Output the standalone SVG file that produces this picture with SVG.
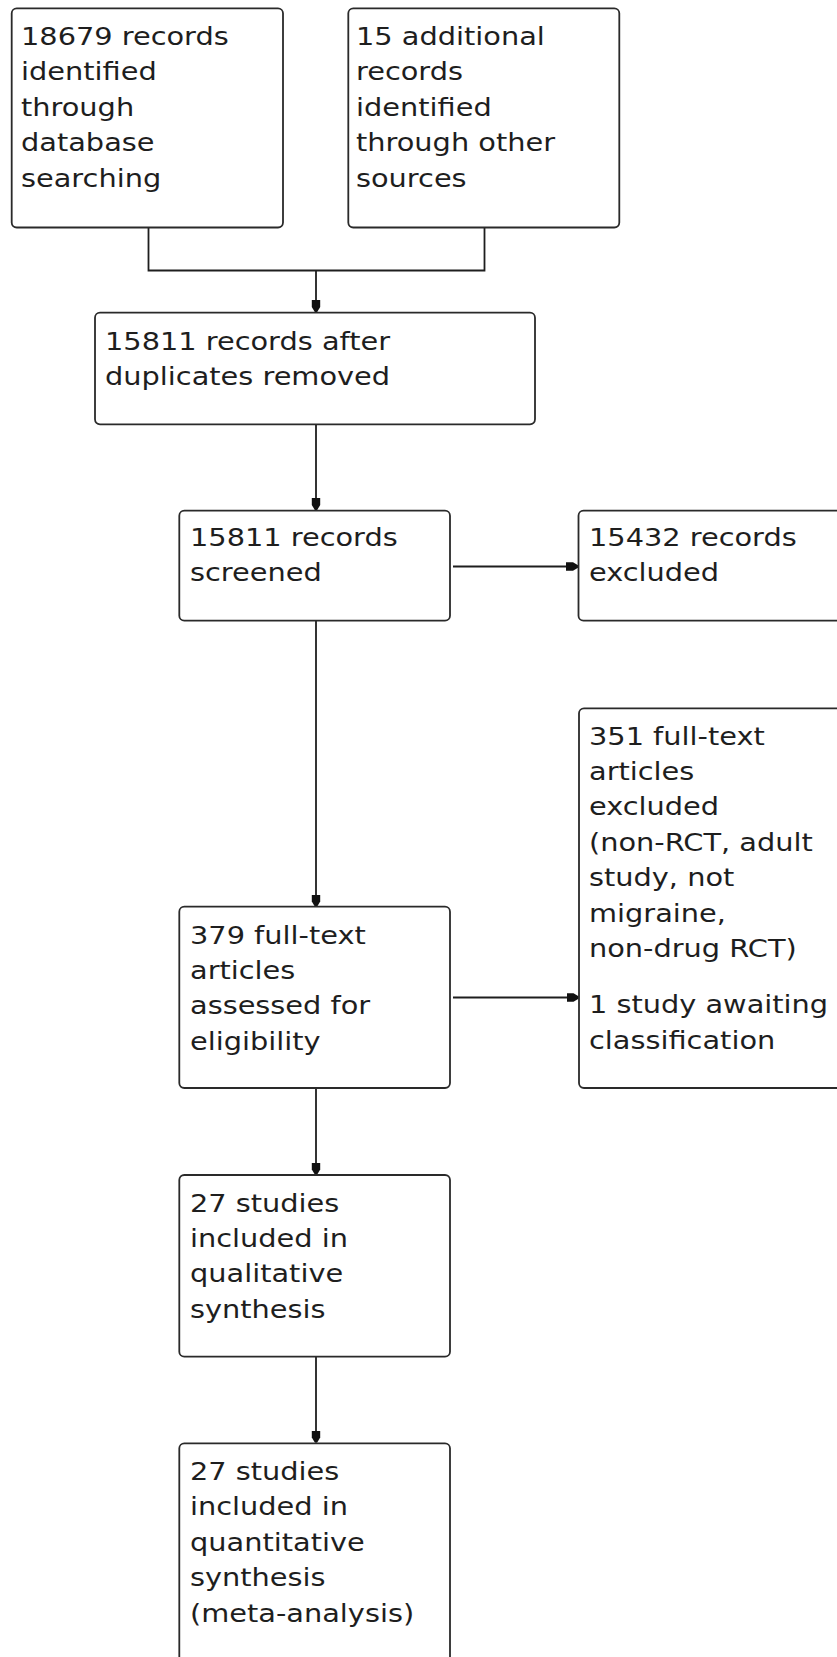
<svg xmlns="http://www.w3.org/2000/svg" width="837" height="1657" viewBox="0 0 837 1657">
<style>
.box{fill:#ffffff;stroke:#2a2a2a;stroke-width:1.8}
.lbl{font-family:"DejaVu Sans","Verdana",sans-serif;font-size:25.5px;fill:#1e1e1e}
.con{fill:none;stroke:#1e1e1e;stroke-width:1.8}
</style>
<defs>
<marker id="ah" markerUnits="userSpaceOnUse" markerWidth="14" markerHeight="12" refX="12" refY="6" orient="auto">
<path d="M0,1.8 L7,1.8 L12,4.8 L12,7.2 L7,10.2 L0,10.2 Z" fill="#111"/>
</marker>
</defs>
<rect x="0" y="0" width="837" height="1657" fill="#ffffff"/>
<g id="connectors">
<path class="con" d="M148.5,227.5 V270.5 H484.5 V227.5"/>
<path class="con" d="M316,270.5 V312" marker-end="url(#ah)"/>
<path class="con" d="M316,424.5 V510" marker-end="url(#ah)"/>
<path class="con" d="M453,566.5 H578" marker-end="url(#ah)"/>
<path class="con" d="M316,621 V906.5" marker-end="url(#ah)"/>
<path class="con" d="M453,997.5 H578.5" marker-end="url(#ah)"/>
<path class="con" d="M316,1088.5 V1174.5" marker-end="url(#ah)"/>
<path class="con" d="M316,1357 V1442.5" marker-end="url(#ah)"/>
</g>
<g id="n1">
<rect class="box" x="11.7" y="8.3" width="271.3" height="219.2" rx="5"/>
<text class="lbl" transform="translate(21,45) scale(1.13,1)"><tspan x="0" y="0">18679 records</tspan><tspan x="0" y="35.5">identified</tspan><tspan x="0" y="71">through</tspan><tspan x="0" y="106.5">database</tspan><tspan x="0" y="142">searching</tspan></text>
</g>
<g id="n2">
<rect class="box" x="348.3" y="8.3" width="271" height="219.2" rx="5"/>
<text class="lbl" transform="translate(356,45) scale(1.13,1)"><tspan x="0" y="0">15 additional</tspan><tspan x="0" y="35.5">records</tspan><tspan x="0" y="71">identified</tspan><tspan x="0" y="106.5">through other</tspan><tspan x="0" y="142">sources</tspan></text>
</g>
<g id="n3">
<rect class="box" x="95" y="312.7" width="440" height="111.6" rx="5"/>
<text class="lbl" transform="translate(105,349.5) scale(1.13,1)"><tspan x="0" y="0">15811 records after</tspan><tspan x="0" y="35.5">duplicates removed</tspan></text>
</g>
<g id="n4">
<rect class="box" x="179.3" y="510.7" width="270.7" height="110" rx="5"/>
<text class="lbl" transform="translate(190,546) scale(1.13,1)"><tspan x="0" y="0">15811 records</tspan><tspan x="0" y="35.5">screened</tspan></text>
</g>
<g id="n5">
<rect class="box" x="578.5" y="510.7" width="280" height="110" rx="5"/>
<text class="lbl" transform="translate(589,546) scale(1.13,1)"><tspan x="0" y="0">15432 records</tspan><tspan x="0" y="35.5">excluded</tspan></text>
</g>
<g id="n6">
<rect class="box" x="579" y="708.3" width="280" height="379.7" rx="5"/>
<text class="lbl" transform="translate(589,744.5) scale(1.13,1)"><tspan x="0" y="0">351 full-text</tspan><tspan x="0" y="35.5">articles</tspan><tspan x="0" y="71">excluded</tspan><tspan x="0" y="106.5">(non-RCT, adult</tspan><tspan x="0" y="142">study, not</tspan><tspan x="0" y="177.5">migraine,</tspan><tspan x="0" y="213">non-drug RCT)</tspan><tspan x="0" y="269">1 study awaiting</tspan><tspan x="0" y="304.5">classification</tspan></text>
</g>
<g id="n7">
<rect class="box" x="179.3" y="906.7" width="270.7" height="181.3" rx="5"/>
<text class="lbl" transform="translate(190,943.5) scale(1.13,1)"><tspan x="0" y="0">379 full-text</tspan><tspan x="0" y="35.5">articles</tspan><tspan x="0" y="71">assessed for</tspan><tspan x="0" y="106.5">eligibility</tspan></text>
</g>
<g id="n8">
<rect class="box" x="179.3" y="1175" width="270.7" height="181.7" rx="5"/>
<text class="lbl" transform="translate(190,1211.5) scale(1.13,1)"><tspan x="0" y="0">27 studies</tspan><tspan x="0" y="35.5">included in</tspan><tspan x="0" y="71">qualitative</tspan><tspan x="0" y="106.5">synthesis</tspan></text>
</g>
<g id="n9">
<rect class="box" x="179.3" y="1443.3" width="270.7" height="240" rx="5"/>
<text class="lbl" transform="translate(190,1480) scale(1.13,1)"><tspan x="0" y="0">27 studies</tspan><tspan x="0" y="35.5">included in</tspan><tspan x="0" y="71">quantitative</tspan><tspan x="0" y="106.5">synthesis</tspan><tspan x="0" y="142">(meta-analysis)</tspan></text>
</g>
</svg>
